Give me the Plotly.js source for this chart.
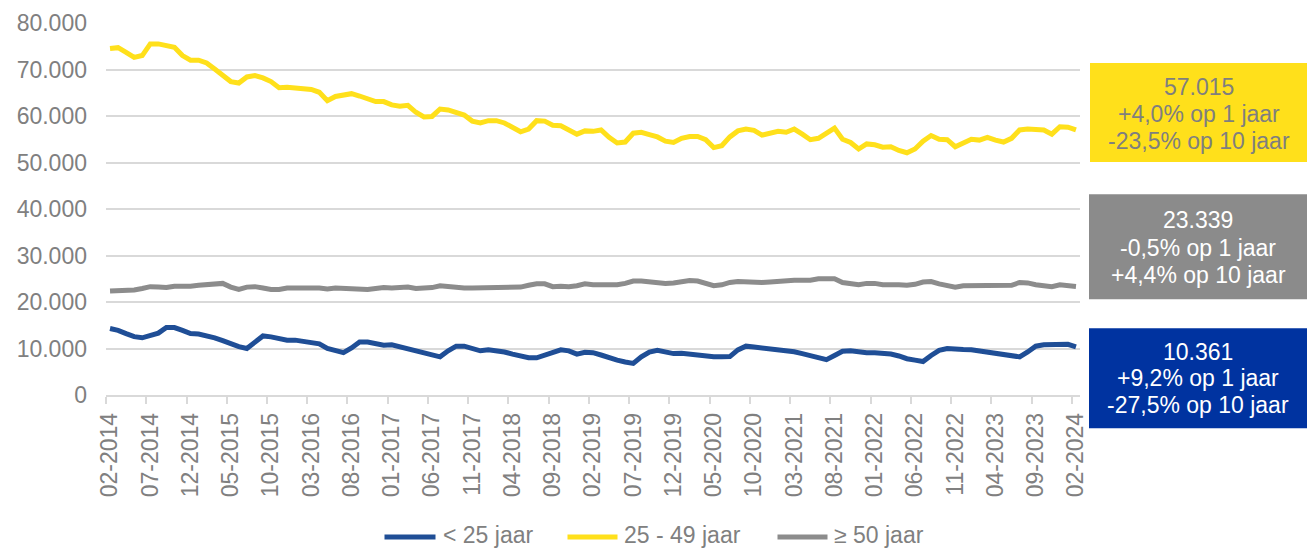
<!DOCTYPE html>
<html><head><meta charset="utf-8">
<script src="https://cdn.plot.ly/plotly-3.0.1.min.js"></script>
<style>html,body{margin:0;padding:0;background:#fff}#chart{width:1307px;height:549px}</style>
</head><body><div id="chart"></div>
<script>
// ---- categories: monthly, 02-2014 .. 02-2024 ----
const startYear = 2014, startMonth = 2, nMonths = 121;
const months = [];
for (let i = 0; i < nMonths; i++) {
  const m = (startMonth - 1 + i) % 12 + 1;
  const y = startYear + Math.floor((startMonth - 1 + i) / 12);
  months.push(String(m).padStart(2, '0') + '-' + y);
}
const monthIdx = months.map((_, i) => i);
const tickIdx = monthIdx.filter(i => i % 5 === 0);
const tickLabels = tickIdx.map(i => months[i]);

// ---- series values ----
const under25 = [
  14290,13900,13200,12550,12300,12900,13300,14500,14500,13900,
  13200,13100,12800,12300,11700,11000,10400,10000,11500,12700,
  12500,12200,11800,11800,11600,11300,11000,10000,9600,9100,
  10100,11400,11400,11000,10700,10800,10400,10000,9500,9000,
  8700,8200,9500,10500,10500,10000,9500,9700,9500,9250,
  8800,8400,8000,8000,8600,9300,9700,9500,8800,9200,
  9100,8600,8000,7500,7100,6800,8200,9250,9600,9250,
  8900,9000,8750,8500,8400,8250,8200,8250,9700,10500,
  10300,10100,10000,9600,9400,9300,8900,8400,7900,7600,
  8500,9400,9500,9200,9100,9100,9000,8800,8400,7800,
  7500,7200,8500,9600,10000,9800,9800,9750,9488,9300,
  9000,8750,8600,8200,9250,10500,10800,10750,10750,10900,
  10361
];
const age25to49 = [
  74530,74700,73700,72600,73000,75500,75500,75200,74800,73000,
  72000,72000,71400,70100,68700,67400,67100,68400,68700,68200,
  67400,66100,66200,66000,65900,65700,65100,63300,64200,64600,
  64800,64300,63800,63100,63100,62400,62100,62300,60800,59800,
  59900,61500,61300,60800,60200,58900,58500,59000,59000,58500,
  57500,56600,57200,59000,58900,58000,57900,57000,56100,56800,
  56700,57000,55400,54200,54400,56300,56500,56000,55500,54600,
  54300,55200,55600,55600,54900,53200,53600,55500,56800,57200,
  56900,55900,56300,56700,56500,57200,56100,54900,55200,56300,
  57400,55000,54300,52900,54000,53800,53300,53400,52600,52100,
  52900,54600,55800,55000,54900,53400,54300,55000,54820,55400,
  54800,54400,55200,57000,57200,57000,57000,56100,57700,57600,
  57015
];
const age50plus = [
  22355,22400,22500,22600,22900,23300,23200,23100,23400,23300,
  23400,23600,23700,23900,24000,23200,22700,23200,23300,23000,
  22700,22700,23000,23000,22900,23000,23000,22800,23000,22900,
  22800,22700,22700,22900,23100,23000,23100,23200,22900,22900,
  23100,23500,23300,23100,23000,23000,23000,23100,23200,23200,
  23200,23200,23600,23900,23900,23300,23400,23300,23500,23900,
  23700,23700,23700,23700,24000,24500,24500,24300,24100,24000,
  24100,24300,24600,24500,24100,23500,23700,24200,24400,24300,
  24200,24200,24300,24500,24500,24700,24700,24700,25000,25100,
  25000,24200,24000,23700,24000,24000,23700,23800,23700,23600,
  23800,24300,24400,23900,23500,23200,23500,23500,23456,23500,
  23500,23400,23600,24200,24100,23700,23500,23300,23700,23500,
  23339
];
const seriesNames = ['< 25 jaar', '25 - 49 jaar', '\u2265 50 jaar'];

// ---- callout texts ----
const calloutMid   = ['57.015', '+4,0% op 1 jaar', '-23,5% op 10 jaar'];
const calloutOld   = ['23.339', '-0,5% op 1 jaar', '+4,4% op 10 jaar'];
const calloutYoung = ['10.361', '+9,2% op 1 jaar', '-27,5% op 10 jaar'];

// ---- styling ----
const C_BLUE = '#1F4E96', C_YELLOW = '#FFE01B', C_GRAY = '#8C8C8C';
const BOX_BLUE = '#0033A0', BOX_GRAY = '#8B8B8B', BOX_YELLOW = '#FFE01B';
const FONT = '"Liberation Sans", Arial, Helvetica, sans-serif';
const TXT = '#808080';
const seriesColors = [C_BLUE, C_YELLOW, C_GRAY];

// plot area in pixels
const W = 1307, H = 549;
const L = 106, R = 1080, T = 23, B = 395;
const px = x => (x - L) / (R - L);
const py = y => (B - y) / (B - T);

function mk(y, name, color) {
  return {
    x: monthIdx, y: y, name: name, type: 'scatter', mode: 'lines',
    customdata: months, showlegend: false,
    hovertemplate: '%{customdata}: %{y:,d}<extra>' + name + '</extra>',
    line: {color: color, width: 5, shape: 'linear'}
  };
}
const data = [
  mk(under25, seriesNames[0], seriesColors[0]),
  mk(age25to49, seriesNames[1], seriesColors[1]),
  mk(age50plus, seriesNames[2], seriesColors[2])
];

const boxes = [
  {lines: calloutMid,   fill: BOX_YELLOW, color: '#7F7F7F', x0: 1090, x1: 1307, y0: 63,    y1: 162,   ly: [86.7, 114.3, 141]},
  {lines: calloutOld,   fill: BOX_GRAY,   color: '#FFFFFF', x0: 1089, x1: 1307, y0: 194.3, y1: 299.3, ly: [220, 247.7, 275]},
  {lines: calloutYoung, fill: BOX_BLUE,   color: '#FFFFFF', x0: 1089, x1: 1307, y0: 328.3, y1: 428.3, ly: [351.7, 378.3, 405]}
];
const shapes = [], annotations = [];
boxes.forEach(b => {
  shapes.push({type: 'rect', xref: 'paper', yref: 'paper',
    x0: px(b.x0), x1: px(b.x1), y0: py(b.y1), y1: py(b.y0),
    fillcolor: b.fill, line: {width: 0}, layer: 'above'});
  b.lines.forEach((t, k) => {
    annotations.push({xref: 'paper', yref: 'paper', x: px((b.x0 + b.x1) / 2), y: py(b.ly[k]),
      xanchor: 'center', yanchor: 'middle', showarrow: false, text: t,
      font: {family: FONT, size: 23, color: b.color}});
  });
});

// ---- legend (drawn as line samples + labels, like the reference) ----
const legendY = 537;
const legendItems = [{x0: 384.5, x1: 435.5, tx: 441}, {x0: 567.5, x1: 617.5, tx: 622}, {x0: 777.5, x1: 827.5, tx: 832}];
legendItems.forEach((it, k) => {
  shapes.push({type: 'line', xref: 'paper', yref: 'paper',
    x0: px(it.x0), x1: px(it.x1), y0: py(legendY), y1: py(legendY),
    line: {color: seriesColors[k], width: 5}});
  annotations.push({xref: 'paper', yref: 'paper', x: px(it.tx), y: py(legendY - 2),
    xanchor: 'left', yanchor: 'middle', showarrow: false, text: seriesNames[k],
    font: {family: FONT, size: 23, color: TXT}});
});

const layout = {
  width: W, height: H,
  margin: {l: L, r: W - R, t: T, b: H - B},
  separators: ',.',
  paper_bgcolor: '#ffffff', plot_bgcolor: '#ffffff',
  font: {family: FONT, size: 23, color: TXT},
  showlegend: false,
  xaxis: {
    type: 'linear', range: [-0.5, 120.5],
    tickmode: 'array', tickvals: tickIdx, ticktext: tickLabels,
    tickangle: -90, ticks: 'outside', ticklen: 7, tickcolor: 'rgba(0,0,0,0)',
    tickfont: {family: FONT, size: 23, color: TXT},
    showgrid: false, zeroline: false,
    showline: true, linecolor: '#D9D9D9', linewidth: 1.5,
    minor: {tickmode: 'linear', tick0: -0.5, dtick: 5, ticks: 'outside', ticklen: 7,
            tickwidth: 1.5, tickcolor: '#D9D9D9', showgrid: false},
    fixedrange: true
  },
  yaxis: {
    range: [0, 80000], tickmode: 'linear', tick0: 0, dtick: 10000, tickformat: ',d',
    tickfont: {family: FONT, size: 23, color: TXT},
    showgrid: true, gridcolor: '#D9D9D9', gridwidth: 1.5,
    zeroline: false, showline: false, ticks: '', ticklabelstandoff: 18,
    fixedrange: true
  },
  shapes: shapes,
  annotations: annotations
};

Plotly.newPlot('chart', data, layout, {displayModeBar: false});
</script>
</body></html>
